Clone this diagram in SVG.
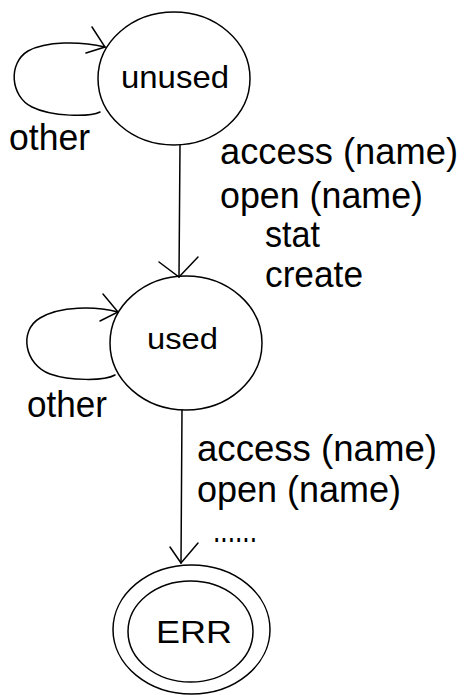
<svg xmlns="http://www.w3.org/2000/svg" width="465" height="695" viewBox="0 0 465 695">
  <style>
    .state { fill: none; stroke: #000; stroke-width: 1.5; }
    .edge { fill: none; stroke: #000; stroke-width: 1.5; stroke-linecap: round; }
    .node-label { font-family: "Liberation Sans", Arial, sans-serif; fill: #000; }
    .edge-label { font-family: "Liberation Sans", Arial, sans-serif; font-size: 36px; fill: #000; }
  </style>
  <rect width="465" height="695" fill="#fff"/>

  <!-- state: unused -->
  <g id="unused">
    <ellipse class="state" cx="174" cy="78.5" rx="76" ry="66.5"/>
    <text class="node-label" x="121" y="88" font-size="32" textLength="108" lengthAdjust="spacingAndGlyphs">unused</text>
  </g>

  <!-- state: used -->
  <g id="used">
    <ellipse class="state" cx="186" cy="343" rx="76" ry="67"/>
    <text class="node-label" x="147" y="349" font-size="30" textLength="71" lengthAdjust="spacingAndGlyphs">used</text>
  </g>

  <!-- final state: ERR -->
  <g id="err">
    <ellipse class="state" cx="191.5" cy="629.5" rx="78.5" ry="64.5"/>
    <ellipse class="state" cx="190.5" cy="631.5" rx="62.5" ry="50.5"/>
    <text class="node-label" x="156" y="643" font-size="32" textLength="76" lengthAdjust="spacingAndGlyphs">ERR</text>
  </g>

  <!-- transitions -->
  <g id="connectors">
    <!-- unused self-loop -->
    <path class="edge" d="M100,112 C90,117 52,117 32,107 C10,96 8,63 28,51 C46,41 80,41 105,47"/>
    <path class="edge" d="M92,27 L105,47 L86,53"/>
    <!-- unused -> used -->
    <path class="edge" d="M180,145 L179,277"/>
    <path class="edge" d="M159,262 L179,277 L198,257"/>
    <!-- used self-loop -->
    <path class="edge" d="M115,375 C105,381 70,381 50,374 C25,365 18,331 40,318 C60,306 95,306 118,312"/>
    <path class="edge" d="M103,294 L118,312 L100,321"/>
    <!-- used -> ERR -->
    <path class="edge" d="M182,410 L181,563"/>
    <path class="edge" d="M170,547 L181,563 L198,543"/>
  </g>

  <!-- transition labels -->
  <g id="labels">
    <text class="edge-label" x="9" y="150" font-size="28" textLength="81" lengthAdjust="spacingAndGlyphs">other</text>
    <text class="edge-label" x="220" y="164" textLength="238" lengthAdjust="spacingAndGlyphs">access (name)</text>
    <text class="edge-label" x="220" y="208" textLength="203" lengthAdjust="spacingAndGlyphs">open (name)</text>
    <text class="edge-label" x="265" y="247" textLength="55" lengthAdjust="spacingAndGlyphs">stat</text>
    <text class="edge-label" x="265" y="287" textLength="98" lengthAdjust="spacingAndGlyphs">create</text>
    <text class="edge-label" x="27" y="417" font-size="28" textLength="80" lengthAdjust="spacingAndGlyphs">other</text>
    <text class="edge-label" x="197" y="461" textLength="240" lengthAdjust="spacingAndGlyphs">access (name)</text>
    <text class="edge-label" x="197" y="502" textLength="204" lengthAdjust="spacingAndGlyphs">open (name)</text>
    <text class="edge-label" x="213" y="542" font-size="30" textLength="44" lengthAdjust="spacingAndGlyphs">......</text>
  </g>
</svg>
